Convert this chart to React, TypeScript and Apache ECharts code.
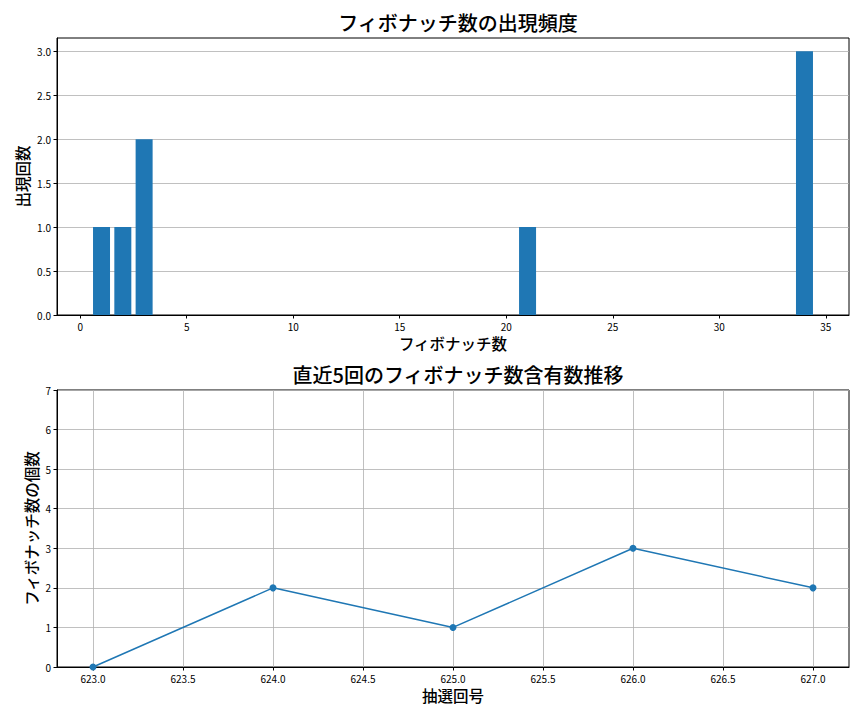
import React, { useEffect, useRef } from "react";
import * as echarts from "echarts";

const fibNumbers = [1, 2, 3, 21, 34];
const fibCounts = [1, 1, 2, 1, 3];
const topXTicks = [0, 5, 10, 15, 20, 25, 30, 35];
const topYTicks = [0, 0.5, 1, 1.5, 2, 2.5, 3];

const drawIds = [623, 624, 625, 626, 627];
const drawFibCounts = [0, 2, 1, 3, 2];
const bottomXTicks = [623, 623.5, 624, 624.5, 625, 625.5, 626, 626.5, 627];
const bottomYTicks = [0, 1, 2, 3, 4, 5, 6, 7];

const FONT = "'Noto Sans CJK JP', 'Noto Sans', sans-serif";
const BLUE = "#1f77b4";

export default function App() {
  const ref = useRef<HTMLDivElement>(null);
  useEffect(() => {
    const chart = echarts.init(ref.current!, null, { renderer: "svg" });
    const tickLabel = { color: "#000", fontSize: 10, fontFamily: FONT, margin: 6 };
    const nameStyle = { color: "#000", fontSize: 15.5, fontWeight: 500, fontFamily: FONT };
    const titleStyle = { fontSize: 20, fontWeight: 500, color: "#000", fontFamily: FONT };
    chart.setOption({
      animation: false,
      backgroundColor: "#fff",
      textStyle: { fontFamily: FONT },
      title: [
        { text: "フィボナッチ数の出現頻度", left: 453, top: 7, textAlign: "center", textStyle: titleStyle },
        { text: "直近5回のフィボナッチ数含有数推移", left: 453, top: 359, textAlign: "center", textStyle: titleStyle },
      ],
      grid: [
        { left: 57, top: 38, width: 792, height: 277, show: true, borderColor: "#000", borderWidth: 1, backgroundColor: "transparent" },
        { left: 57, top: 390, width: 792, height: 277, show: true, borderColor: "#000", borderWidth: 1, backgroundColor: "transparent" },
      ],
      xAxis: [
        {
          type: "value",
          gridIndex: 0,
          min: -1.09,
          max: 36.09,
          minInterval: 5,
          maxInterval: 5,
          name: "フィボナッチ数",
          nameLocation: "middle",
          nameGap: 20,
          nameMoveOverlap: false,
          nameTextStyle: nameStyle,
          axisLine: { show: true, onZero: false, lineStyle: { color: "#000", width: 1 } },
          axisTick: { show: true, length: 3.5, lineStyle: { color: "#000" }, customValues: topXTicks },
          axisLabel: { ...tickLabel, customValues: topXTicks, formatter: (v: number) => String(v) },
          splitLine: { show: false },
        },
        {
          type: "value",
          gridIndex: 1,
          min: 622.8,
          max: 627.2,
          minInterval: 0.5,
          maxInterval: 0.5,
          name: "抽選回号",
          nameLocation: "middle",
          nameGap: 20,
          nameMoveOverlap: false,
          nameTextStyle: nameStyle,
          axisLine: { show: true, onZero: false, lineStyle: { color: "#000", width: 1 } },
          axisTick: { show: true, length: 3.5, lineStyle: { color: "#000" }, customValues: bottomXTicks },
          axisLabel: { ...tickLabel, customValues: bottomXTicks, formatter: (v: number) => v.toFixed(1) },
          splitLine: { show: true, lineStyle: { color: "#b0b0b0", width: 0.8 } },
        },
      ],
      yAxis: [
        {
          type: "value",
          gridIndex: 0,
          min: 0,
          max: 3.15,
          interval: 0.5,
          name: "出現回数",
          nameLocation: "middle",
          nameGap: 27,
          nameMoveOverlap: false,
          nameTextStyle: nameStyle,
          axisLine: { show: true, onZero: false, lineStyle: { color: "#000", width: 1 } },
          axisTick: { show: true, length: 3.5, lineStyle: { color: "#000" }, customValues: topYTicks },
          axisLabel: { ...tickLabel, customValues: topYTicks, formatter: (v: number) => v.toFixed(1) },
          splitLine: { show: true, lineStyle: { color: "#b0b0b0", width: 0.8 } },
        },
        {
          type: "value",
          gridIndex: 1,
          min: 0,
          max: 7,
          interval: 1,
          name: "フィボナッチ数の個数",
          nameLocation: "middle",
          nameGap: 18,
          nameMoveOverlap: false,
          nameTextStyle: nameStyle,
          axisLine: { show: true, onZero: false, lineStyle: { color: "#000", width: 1 } },
          axisTick: { show: true, length: 3.5, lineStyle: { color: "#000" }, customValues: bottomYTicks },
          axisLabel: { ...tickLabel, customValues: bottomYTicks, formatter: (v: number) => String(v) },
          splitLine: { show: true, lineStyle: { color: "#b0b0b0", width: 0.8 } },
        },
      ],
      series: [
        {
          type: "bar",
          xAxisIndex: 0,
          yAxisIndex: 0,
          barWidth: 17,
          itemStyle: { color: BLUE },
          data: fibNumbers.map((n, i) => [n, fibCounts[i]]),
        },
        {
          type: "line",
          xAxisIndex: 1,
          yAxisIndex: 1,
          symbol: "circle",
          symbolSize: 7,
          lineStyle: { color: BLUE, width: 1.5 },
          itemStyle: { color: BLUE },
          data: drawIds.map((d, i) => [d, drawFibCounts[i]]),
        },
      ],
    });
    return () => chart.dispose();
  }, []);
  return (
    <div
      ref={ref}
      style={{ position: "fixed", left: 0, top: 0, width: 864, height: 720, background: "#fff" }}
    />
  );
}
